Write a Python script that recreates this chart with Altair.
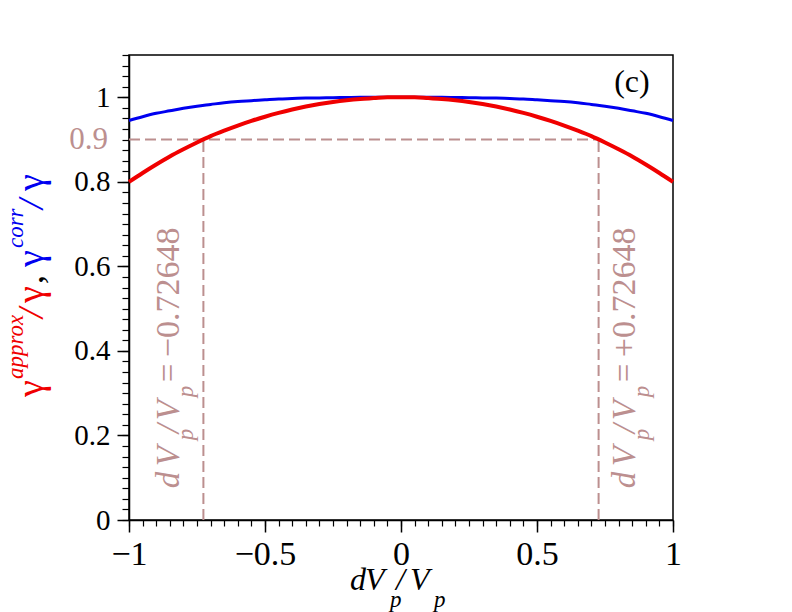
import altair as alt
import pandas as pd

# ---- data ----
X_VALUES = [-1.0, -0.95, -0.9, -0.85, -0.8, -0.75, -0.7, -0.65, -0.6, -0.55, -0.5,
            -0.45, -0.4, -0.35, -0.3, -0.25, -0.2, -0.15, -0.1, -0.05, 0.0,
            0.05, 0.1, 0.15, 0.2, 0.25, 0.3, 0.35, 0.4, 0.45, 0.5,
            0.55, 0.6, 0.65, 0.7, 0.75, 0.8, 0.85, 0.9, 0.95, 1.0]
RED_VALUES = [0.800, 0.821, 0.841, 0.860, 0.877, 0.893, 0.908, 0.921, 0.933, 0.944, 0.954,
              0.963, 0.971, 0.978, 0.984, 0.989, 0.993, 0.996, 0.998, 1.000, 1.000,
              1.000, 0.998, 0.996, 0.993, 0.989, 0.984, 0.978, 0.971, 0.963, 0.954,
              0.944, 0.933, 0.921, 0.908, 0.893, 0.877, 0.860, 0.841, 0.821, 0.800]
BLUE_VALUES = [0.945, 0.954, 0.962, 0.968, 0.974, 0.979, 0.983, 0.987, 0.990, 0.992, 0.994,
               0.996, 0.997, 0.998, 0.9985, 0.999, 0.9995, 1.000, 1.000, 1.000, 1.000,
               1.000, 1.000, 1.000, 0.9995, 0.999, 0.9985, 0.998, 0.997, 0.996, 0.994,
               0.992, 0.990, 0.987, 0.983, 0.979, 0.974, 0.968, 0.962, 0.954, 0.945]

X_MAJOR = [-1, -0.5, 0, 0.5, 1]
Y_MAJOR = [0, 0.2, 0.4, 0.6, 0.8, 1]
X_MINOR = [round(-1 + 0.05 * i, 2) for i in range(41)]
Y_MINOR = [round(0.025 * i, 3) for i in range(45)]

CROSS_X = [-0.72648, 0.72648]
LEVEL = 0.9
LEVEL_LABEL = "0.9"
CROSS_LABELS = ["\u22120.72648", "+0.72648"]
PANEL_LABEL = "(c)"

FONT = "Liberation Serif"
ANNOT = "#bc8f8f"
RED_C, BLUE_C = "#f00000", "#0000f0"

xs = alt.Scale(domain=[-1, 1], nice=False, zero=False)
ys = alt.Scale(domain=[0, 1.1], nice=False, zero=False)

df = pd.DataFrame({"x": X_VALUES, "red": RED_VALUES, "blue": BLUE_VALUES})

common_axis = dict(title=None, grid=False, tickColor="black", domainColor="black",
                   labelColor="black", labelFont=FONT)

blue_line = alt.Chart(df).mark_line(color=BLUE_C, strokeWidth=3, interpolate="monotone").encode(
    x=alt.X("x:Q", scale=xs, axis=alt.Axis(values=X_MINOR, orient="bottom", labels=False,
                                            domain=False, tickSize=6, tickWidth=1.2, **common_axis)),
    y=alt.Y("blue:Q", scale=ys, axis=alt.Axis(values=Y_MINOR, orient="left", labels=False,
                                               domain=False, tickSize=7, tickWidth=1.2, **common_axis)),
)

red_line = alt.Chart(df).mark_line(color=RED_C, strokeWidth=4, interpolate="monotone").encode(
    x=alt.X("x:Q", scale=xs, axis=alt.Axis(values=X_MAJOR, orient="bottom", format="~g",
                                            tickSize=12, tickWidth=1.5, domainWidth=1.5,
                                            labelFontSize=34, labelPadding=5, labelFlush=False,
                                            labelOverlap=False, labelBound=False, **common_axis)),
    y=alt.Y("red:Q", scale=ys, axis=alt.Axis(values=Y_MAJOR, orient="left", format="~g",
                                              tickSize=12, tickWidth=1.5, domainWidth=1.5,
                                              labelFontSize=29, labelPadding=7, labelFlush=False,
                                              labelOverlap=False, labelBound=False, **common_axis)),
)

hrule = alt.Chart(pd.DataFrame({"x": [-1], "x2": [CROSS_X[1]], "y": [LEVEL]})).mark_rule(
    color=ANNOT, strokeDash=[11, 5], strokeWidth=2).encode(
    x=alt.X("x:Q", scale=xs, axis=None), x2="x2:Q", y=alt.Y("y:Q", scale=ys, axis=None))

vrule = alt.Chart(pd.DataFrame({"x": CROSS_X, "y": [0, 0], "y2": [LEVEL, LEVEL]})).mark_rule(
    color=ANNOT, strokeDash=[11, 5], strokeWidth=2).encode(
    x=alt.X("x:Q", scale=xs, axis=None), y=alt.Y("y:Q", scale=ys, axis=None), y2="y2:Q")


def piece(text, x, y, dx=0, dy=0, size=30, color="black", italic=False, angle=0,
          align="left", baseline="alphabetic"):
    kw = dict(font=FONT, fontSize=size, color=color, align=align, baseline=baseline,
              dx=dx, dy=dy, angle=angle)
    if italic:
        kw["fontStyle"] = "italic"
    return alt.Chart(pd.DataFrame({"x": [x], "y": [y], "t": [text]})).mark_text(**kw).encode(
        x=alt.X("x:Q", scale=xs, axis=None), y=alt.Y("y:Q", scale=ys, axis=None), text="t:N")


texts = []

# x-axis title  dV_p/V_p
tx, ty = -0.1875, -0.1655
for t, dx, dy, sz, it in [("d", 0, 0, 32, True), ("V", 15, 0, 32, True), ("p", 40, 17, 23, True),
                          ("/", 46, 0, 32, True), ("V", 60, 0, 32, True), ("p", 84, 17, 23, True)]:
    texts.append(piece(t, tx, ty, dx=dx, dy=dy, size=sz, italic=it))

# y-axis title  gamma^approx/gamma, gamma^corr/gamma (rotated)
yx, yy = -1.3155, 0.2908
for t, dx, dy, sz, it, col in [("\u03b3", 0, 0, 38, False, RED_C),
                               ("approx", 18, -20, 23, True, RED_C),
                               ("/", 79, 0, 36, True, RED_C),
                               ("\u03b3", 94, 0, 38, False, RED_C),
                               (",", 113, 0, 36, False, "black"),
                               ("\u03b3", 130, 0, 38, False, BLUE_C),
                               ("corr", 149, -20, 23, True, BLUE_C),
                               ("/", 188, 0, 36, True, BLUE_C),
                               ("\u03b3", 206, 0, 38, False, BLUE_C)]:
    texts.append(piece(t, yx, yy, dx=dx, dy=dy, size=sz, italic=it, color=col, angle=270))

# rotated annotations at the crossing points
for ax, num in zip([-0.816, 0.860], CROSS_LABELS):
    ay = 0.075
    for t, dx, dy, sz, it in [("d", 0, 0, 33, True), ("V", 22, 0, 33, True), ("p", 48, 14, 23, True),
                              ("/", 55, 0, 33, True), ("V", 68, 0, 33, True), ("p", 91, 14, 23, True),
                              ("=", 106, 0, 33, False), (num, 131, 0, 34, False)]:
        texts.append(piece(t, ax, ay, dx=dx, dy=dy, size=sz, italic=it, color=ANNOT, angle=270))

# level label 0.9 next to the y axis
texts.append(piece(LEVEL_LABEL, -1.077, LEVEL, size=31, color=ANNOT, align="right", baseline="middle"))

# panel label
texts.append(piece(PANEL_LABEL, 0.849, 1.012, size=32, align="center"))

chart = alt.layer(hrule, vrule, blue_line, red_line, *texts).resolve_axis(
    x="independent", y="independent"
).properties(
    width=544, height=465,
    autosize=alt.AutoSizeParams(type="none"),
    padding={"left": 121, "top": 47, "right": 100, "bottom": 92},
).configure_view(stroke="black", strokeWidth=1.5)

chart.save("out.html", embed_options={"renderer": "svg", "actions": False})
